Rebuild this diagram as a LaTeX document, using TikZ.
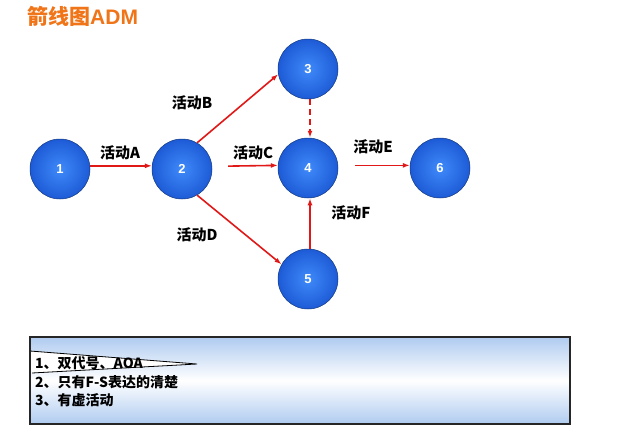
\documentclass[tikz,border=0pt]{standalone}
\usepackage{fontspec}
\setmainfont{Liberation Sans}
\newfontfamily\cjk{Noto Sans CJK SC}
\usetikzlibrary{arrows.meta}
\definecolor{arr}{HTML}{E01818}
\definecolor{ballin}{HTML}{3F8AFA}
\definecolor{ballout}{HTML}{1D5BD6}
\definecolor{ttl}{HTML}{F07418}
\definecolor{boxblue}{HTML}{AFCBF0}
\tikzset{
  ball/.style={circle, minimum size=60pt, inner sep=0pt, inner color=ballin, outer color=ballout, draw=ballout!60!black, line width=0.5pt, text=white, font=\bfseries\fontsize{13}{13}\selectfont},
  act/.style={draw=arr, line width=1.6pt, -{Latex[length=7pt,width=5pt]}},
  lbl/.style={font=\cjk\bfseries\fontsize{15}{15}\selectfont, text=black, inner sep=0pt},
  boxtxt/.style={font=\cjk\bfseries\fontsize{14}{14}\selectfont, anchor=west, inner sep=0pt}
}
\begin{document}
\begin{tikzpicture}[x=1pt,y=-1pt]
\useasboundingbox (0,0) rectangle (640,439);
% title
\node[anchor=west, inner sep=0pt, text=ttl] (title) at (27,16) {{\cjk\bfseries\fontsize{21}{21}\selectfont 箭线图}{\bfseries\fontsize{21}{21}\selectfont ADM}};
% nodes
\node[ball] (n1) at (60,169) {1};
\node[ball] (n2) at (182,169) {2};
\node[ball] (n3) at (308,69) {3};
\node[ball] (n4) at (308,168) {4};
\node[ball] (n5) at (308,279) {5};
\node[ball] (n6) at (440,168) {6};
% arrows
\draw[act] (n1.6) -- (n2.174);
\draw[act] (n2.60) -- (n3.190);
\draw[act, shorten <=16pt] (n2.5) -- (n4.175);
\draw[act] (n2.-60) -- (n5.151);
\draw[act, dash pattern=on 6pt off 4pt] ([xshift=2pt]n3.south) -- ([xshift=2pt]n4.north);
\draw[act, shorten <=17pt] (n4.5) -- (n6.175);
\draw[act] ([xshift=2pt]n5.north) -- ([xshift=2pt]n4.south);
% labels
\node[lbl] (la) at (120,153) {活动A};
\node[lbl] (lb) at (192,103) {活动B};
\node[lbl] (lc) at (253,153) {活动C};
\node[lbl] (ld) at (197,235) {活动D};
\node[lbl] (le) at (373,147) {活动E};
\node[lbl] (lf) at (351,213) {活动F};
% bottom box
\shade[top color=boxblue, bottom color=boxblue, middle color=white] (30,337) rectangle (570,424);
\fill[white] (30,351) -- (197,364) -- (32,373) -- (30,373) -- cycle;
\draw[line width=0.8pt, black] (30,351) -- (197,364) -- (32,373);
\draw[line width=1.4pt, draw=black!85] (30,337) rectangle (570,424);
\node[boxtxt] (t1) at (35,363) {1、双代号、AOA};
\node[boxtxt] (t2) at (35,382) {2、只有F-S表达的清楚};
\node[boxtxt] (t3) at (35,400) {3、有虚活动};
\end{tikzpicture}
\end{document}
